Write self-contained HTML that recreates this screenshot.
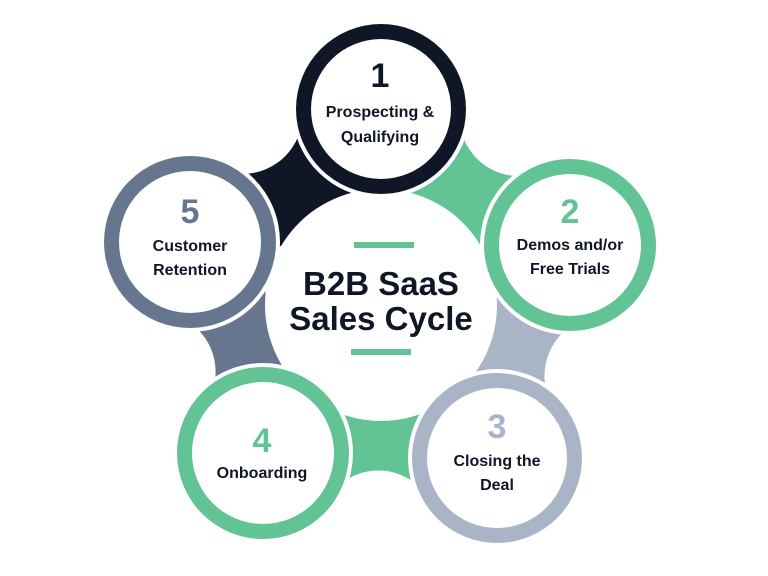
<!DOCTYPE html>
<html><head><style>
html,body{margin:0;padding:0;background:#fff;overflow:hidden;width:768px;height:576px;}
svg{display:block;position:absolute;left:0;top:0;}
text{font-family:"Liberation Sans",sans-serif;font-weight:bold;text-anchor:middle;}
</style></head><body>
<svg width="768" height="576" viewBox="0 0 768 576" xmlns="http://www.w3.org/2000/svg">
<rect width="768" height="576" fill="#fff"/>
<!-- webbing bands -->
<polygon points="413.1,64.4 602.1,200.4 537.9,289.6 348.9,153.6" fill="#62c394"/>
<polygon points="622.1,262.8 549.1,475.8 444.9,440.2 517.9,227.2" fill="#a9b5c7"/>
<polygon points="495.8,513 261.8,508 264.2,398 498.2,403" fill="#62c394"/>
<polygon points="211,471 138,260 242,224 315,435" fill="#66768f"/>
<polygon points="158.5,196.8 349.5,63.8 412.5,154.2 221.5,287.2" fill="#0f1626"/>
<!-- outer carves -->
<circle cx="519.3" cy="116.2" r="60" fill="#fff"/>
<circle cx="604.5" cy="375.8" r="60" fill="#fff"/>
<circle cx="378.4" cy="530.5" r="60" fill="#fff"/>
<circle cx="155.6" cy="372" r="60" fill="#fff"/>
<circle cx="242.6" cy="113.9" r="60" fill="#fff"/>
<!-- center blob -->
<circle cx="381" cy="305" r="116" fill="#fff"/>
<!-- circles -->
<circle cx="381" cy="109" r="89" fill="#fff"/><circle cx="381" cy="109" r="85" fill="#0f1626"/><circle cx="381" cy="109" r="70" fill="#fff"/>
<circle cx="570" cy="245" r="90" fill="#fff"/><circle cx="570" cy="245" r="86" fill="#62c394"/><circle cx="570" cy="245" r="71" fill="#fff"/>
<circle cx="497" cy="458" r="89" fill="#fff"/><circle cx="497" cy="458" r="85" fill="#a9b5c7"/><circle cx="497" cy="458" r="70" fill="#fff"/>
<circle cx="263" cy="453" r="90" fill="#fff"/><circle cx="263" cy="453" r="86" fill="#62c394"/><circle cx="263" cy="453" r="71" fill="#fff"/>
<circle cx="190" cy="242" r="90" fill="#fff"/><circle cx="190" cy="242" r="86" fill="#66768f"/><circle cx="190" cy="242" r="71" fill="#fff"/>
<!-- center -->
<rect x="354" y="242" width="60" height="6" fill="#62c394"/>
<rect x="351" y="349" width="60" height="6" fill="#62c394"/>
<text x="381" y="295" font-size="33" fill="#0f1626">B2B SaaS</text>
<text x="381" y="330" font-size="33" fill="#0f1626">Sales Cycle</text>
<!-- labels -->
<text x="380" y="87" font-size="34" fill="#0f1626">1</text>
<text x="380" y="117" font-size="16" fill="#0f1626">Prospecting &amp;</text>
<text x="380" y="142" font-size="16" fill="#0f1626">Qualifying</text>
<text x="570" y="223" font-size="34" fill="#62c394">2</text>
<text x="570" y="250" font-size="16" fill="#0f1626">Demos and/or</text>
<text x="570" y="274" font-size="16" fill="#0f1626">Free Trials</text>
<text x="497" y="438" font-size="34" fill="#a9b5c7">3</text>
<text x="497" y="466" font-size="16" fill="#0f1626">Closing the</text>
<text x="497" y="490" font-size="16" fill="#0f1626">Deal</text>
<text x="262" y="452" font-size="34" fill="#62c394">4</text>
<text x="262" y="478" font-size="16" fill="#0f1626">Onboarding</text>
<text x="190" y="223" font-size="34" fill="#66768f">5</text>
<text x="190" y="251" font-size="16" fill="#0f1626">Customer</text>
<text x="190" y="275" font-size="16" fill="#0f1626">Retention</text>
</svg>
</body></html>
